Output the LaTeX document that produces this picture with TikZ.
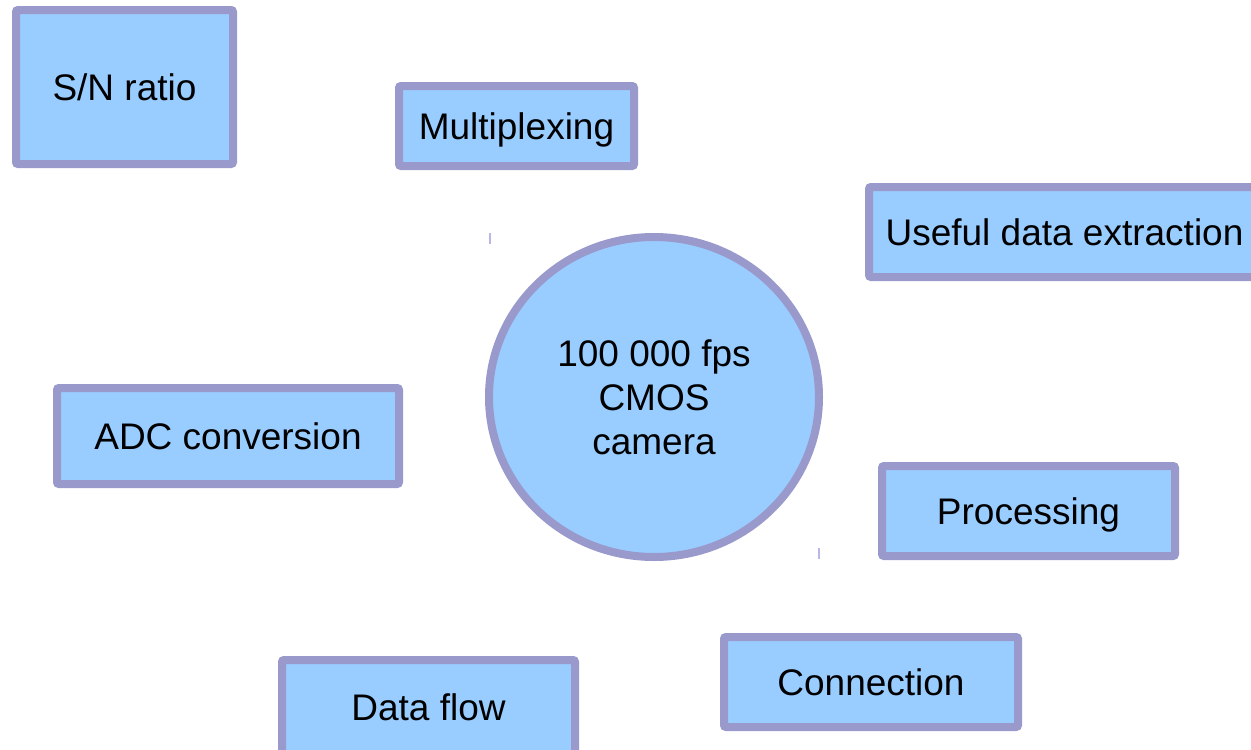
\documentclass[tikz,border=0pt]{standalone}
\usepackage{fontspec}
\setmainfont{Liberation Sans}
\usetikzlibrary{shapes.geometric}
\definecolor{bordc}{HTML}{9999CC}
\definecolor{fillc}{HTML}{99CCFF}
\definecolor{tickc}{HTML}{B8B8E6}
\tikzset{
  topic/.style={draw=bordc, fill=fillc, line width=8pt, rounded corners=2pt, inner sep=0pt, text height=27pt, text depth=1pt, font=\fontsize{37}{44}\selectfont, text=black},
  hub/.style={ellipse, draw=bordc, fill=fillc, line width=8pt, inner sep=0pt, align=center, font=\fontsize{37}{44}\selectfont, text=black},
  tick/.style={draw=tickc, line width=1.2pt}
}
\begin{document}
\begin{tikzpicture}[x=1pt,y=-1pt]
\useasboundingbox (0,0) rectangle (1251,750);
\clip (0,0) rectangle (1251,750);
\node[topic, minimum width=217pt, minimum height=154pt] (sn) at (124.5,87) {S/N ratio};
\node[topic, minimum width=235pt, minimum height=80pt] (mux) at (516.5,126) {Multiplexing};
\node[topic, minimum width=391pt, minimum height=90pt] (useful) at (1064.5,232) {Useful data extraction};
\node[topic, minimum width=342pt, minimum height=96pt] (adc) at (228,436) {ADC conversion};
\node[topic, minimum width=293pt, minimum height=90pt] (proc) at (1028.5,511) {Processing};
\node[topic, minimum width=294pt, minimum height=90pt] (conn) at (871,682) {Connection};
\node[topic, minimum width=293pt, minimum height=94pt] (flow) at (428.5,707) {Data flow};
\node[hub, minimum width=330pt, minimum height=320pt] (cam) at (654,397) {100 000 fps\\CMOS\\camera};
\coordinate (t1a) at (490,233);
\coordinate (t1b) at (490,244);
\coordinate (t2a) at (819,548);
\coordinate (t2b) at (819,559);
\draw[tick] (t1a) -- (t1b);
\draw[tick] (t2a) -- (t2b);
\end{tikzpicture}
\end{document}
